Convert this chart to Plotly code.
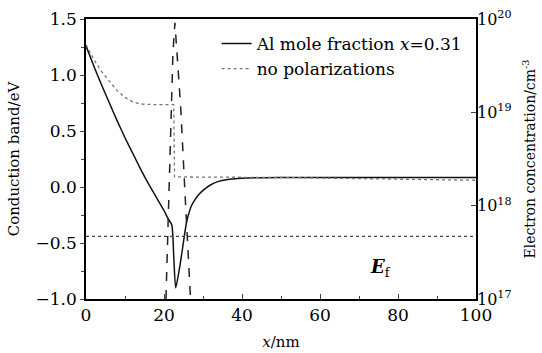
import plotly.graph_objects as go

# Conduction band, Al mole fraction x=0.31 (with polarization)
x_pol = [0, 2, 4, 6, 8, 10, 12, 14, 16, 18, 20, 21, 22, 22.5, 23, 24, 25, 25.8, 26.5, 27, 28, 29, 30, 32, 34, 36, 40, 50, 60, 70, 80, 90, 100]
cb_pol = [1.26, 1.08, 0.91, 0.75, 0.59, 0.44, 0.30, 0.16, 0.03, -0.09, -0.21, -0.28, -0.34, -0.62, -0.90, -0.72, -0.49, -0.31, -0.22, -0.17, -0.11, -0.065, -0.03, 0.02, 0.05, 0.065, 0.078, 0.085, 0.085, 0.085, 0.085, 0.085, 0.085]

# Conduction band, no polarizations
x_nopol = [0, 2, 4, 6, 8, 10, 12, 14, 16, 18, 20, 21.7, 22.5, 22.7, 25, 30, 40, 50, 60, 70, 80, 90, 100]
cb_nopol = [1.27, 1.14, 1.03, 0.94, 0.86, 0.80, 0.76, 0.74, 0.735, 0.735, 0.735, 0.735, 0.735, 0.09, 0.09, 0.09, 0.09, 0.085, 0.08, 0.075, 0.07, 0.065, 0.06]

# Electron concentration (cm^-3), right axis
x_conc = [20.5, 20.9, 21.3, 21.8, 22.3, 22.8, 23.3, 24.3, 25.3, 26.0, 26.8]
n_conc = [1.0e17, 4.0e17, 1.6e18, 1.1e19, 4.4e19, 9.1e19, 4.4e19, 1.1e19, 1.6e18, 4.0e17, 1.0e17]

# Fermi level
x_ef = [0, 100]
e_f = [-0.44, -0.44]

x_ticks = [0, 20, 40, 60, 80, 100]
y_ticks = [-1.0, -0.5, 0.0, 0.5, 1.0, 1.5]
n_ticks = [1e17, 1e18, 1e19, 1e20]
n_ticklabels = ["10<sup>17</sup>", "10<sup>18</sup>", "10<sup>19</sup>", "10<sup>20</sup>"]

FONT = "DejaVu Serif"

fig = go.Figure()
fig.add_trace(go.Scatter(x=x_pol, y=cb_pol, mode="lines", name="Al mole fraction <i>x</i>=0.31",
                         line=dict(color="#111111", width=1.5, shape="spline", smoothing=0.6), yaxis="y"))
fig.add_trace(go.Scatter(x=x_nopol, y=cb_nopol, mode="lines", name="no polarizations",
                         line=dict(color="#777777", width=1.3, dash="dot"), yaxis="y"))
fig.add_trace(go.Scatter(x=x_ef, y=e_f, mode="lines", showlegend=False,
                         line=dict(color="#444444", width=1.2, dash="dot"), yaxis="y"))
fig.add_trace(go.Scatter(x=x_conc, y=n_conc, mode="lines", showlegend=False,
                         line=dict(color="#222222", width=1.5, dash="dash"), yaxis="y2"))

fig.add_annotation(x=75.5, y=-0.72, xref="x", yref="y", text="<b><i>E</i></b><sub>f</sub>",
                   showarrow=False, font=dict(family=FONT, size=18, color="black"))

fig.update_layout(
    template="none",
    width=542, height=353,
    margin=dict(l=86, r=66, t=19, b=54),
    paper_bgcolor="white", plot_bgcolor="white",
    font=dict(family=FONT, size=15, color="black"),
    showlegend=True,
    legend=dict(x=0.335, y=0.975, xanchor="left", yanchor="top", bgcolor="rgba(0,0,0,0)",
                font=dict(family=FONT, size=17, color="black"), tracegroupgap=0),
    xaxis=dict(range=[0, 100], tickvals=x_ticks, ticks="inside", ticklen=5, tickwidth=1.2,
               minor=dict(dtick=10, ticks="inside", ticklen=3, tickwidth=1),
               showline=True, linecolor="black", linewidth=1.5, mirror=True,
               showgrid=False, zeroline=False,
               title=dict(text="<i>x</i>/nm", font=dict(family=FONT, size=15), standoff=12),
               tickfont=dict(family=FONT, size=17)),
    yaxis=dict(range=[-1.0, 1.5], tickvals=y_ticks, tickformat=".1f", ticks="outside", ticklen=4,
               minor=dict(dtick=0.25, ticks="outside", ticklen=3),
               showline=True, linecolor="black", linewidth=1.5, mirror=True,
               showgrid=False, zeroline=False,
               title=dict(text="Conduction band/eV", font=dict(family=FONT, size=15), standoff=12),
               tickfont=dict(family=FONT, size=17)),
    yaxis2=dict(type="log", range=[17, 20], overlaying="y", side="right",
                tickvals=n_ticks, ticktext=n_ticklabels, ticks="inside", ticklen=5,
                showline=False, showgrid=False, zeroline=False, automargin=False,
                title=dict(text="Electron concentration/cm<sup>-3</sup>", font=dict(family=FONT, size=14), standoff=14),
                tickfont=dict(family=FONT, size=16)),
)

fig.write_html("out.html")
